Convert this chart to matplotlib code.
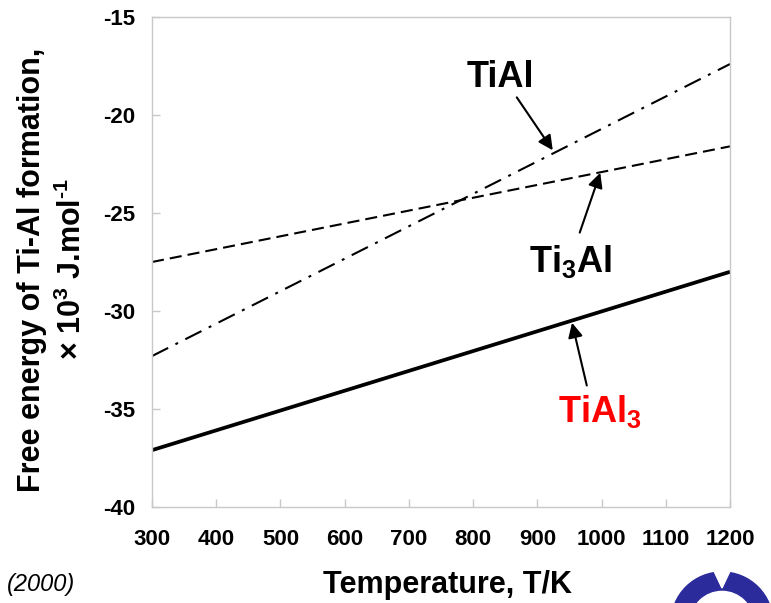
import matplotlib
matplotlib.use("Agg")
import matplotlib.pyplot as plt
from matplotlib.patches import Wedge, Polygon
from matplotlib.transforms import IdentityTransform

plt.rcParams['font.family'] = ['Liberation Sans', 'DejaVu Sans']
plt.rcParams['font.weight'] = 'bold'
plt.rcParams['axes.unicode_minus'] = False
plt.rcParams['mathtext.fontset'] = 'custom'
plt.rcParams['mathtext.rm'] = 'Liberation Sans:bold'

# Temperature range (K) and free energies (x10^3 J/mol) at the ends
temp = [300, 1200]
g_tial3 = [-37.1, -28.0]
g_ti3al = [-27.5, -21.6]
g_tial = [-32.3, -17.4]

xticks = [300, 400, 500, 600, 700, 800, 900, 1000, 1100, 1200]
yticks = [-40, -35, -30, -25, -20, -15]

fig = plt.figure(figsize=(7.71, 6.03), dpi=100)
ax = fig.add_axes([152/771, 1 - 507/603, 578/771, 490/603])

ax.plot(temp, g_tial3, color='k', lw=2.7, solid_capstyle='butt')
ax.plot(temp, g_ti3al, color='k', lw=1.5, linestyle=(0, (5.8, 2.9)))
ax.plot(temp, g_tial, color='k', lw=1.5, linestyle=(0, (8.7, 3.9, 1.4, 3.9)))

ax.set_xlim(300, 1200)
ax.set_ylim(-40, -15)
ax.set_xticks(xticks)
ax.set_xticklabels([str(t) for t in xticks], fontsize=16, fontweight='bold')
ax.set_yticks(yticks)
ax.set_yticklabels([str(t) for t in yticks], fontsize=16, fontweight='bold')
for s in ax.spines.values():
    s.set_color('#c8c8c8')
    s.set_linewidth(1.0)
ax.tick_params(direction='in', length=6, color='#c8c8c8', width=1.0)
ax.tick_params(axis='x', pad=16)
ax.tick_params(axis='y', pad=12)

arrow = dict(arrowstyle='-|>', color='k', lw=1.5, mutation_scale=22, shrinkA=0, shrinkB=0)
ax.annotate('', xy=(924, -21.8), xytext=(868, -19.1), arrowprops=arrow)
ax.annotate('', xy=(998, -22.95), xytext=(966, -26.0), arrowprops=arrow)
ax.annotate('', xy=(954, -30.6), xytext=(977, -33.8), arrowprops=arrow)

ax.text(842, -18.1, 'TiAl', fontsize=26, fontweight='bold', ha='center', va='center')
ax.text(951, -27.5, r'Ti$_\mathregular{3}$Al', fontsize=26, fontweight='bold',
        ha='center', va='center')
ax.text(998, -35.15, r'TiAl$_\mathregular{3}$', fontsize=26, fontweight='bold',
        color='#ff0000', ha='center', va='center')

# axis titles
fig.text(32/771, 1 - 270/603, 'Free energy of Ti-Al formation,', rotation=90,
         fontsize=22, fontweight='bold', ha='center', va='center')
fig.text(72/771, 1 - 269/603, r'× 10$^\mathregular{3}$ J.mol$^\text{-1}$', rotation=90,
         fontsize=22, fontweight='bold', ha='center', va='center')
fig.text(447/771, 1 - 585/603, 'Temperature, T/K', fontsize=22, fontweight='bold',
         ha='center', va='center')
fig.text(75/771, 1 - 585/603, '(2000)', fontsize=17, style='italic', fontweight='normal',
         ha='right', va='center')

# logo in the corner
ring = Wedge((722, -20), 51, 0, 180, width=18, color='#2b2b9c', transform=IdentityTransform())
notch = Polygon([(713, 34), (731, 34), (722, 15)], closed=True, color='white',
                transform=IdentityTransform())
fig.add_artist(ring)
fig.add_artist(notch)

fig.savefig('out.png', dpi=100)
